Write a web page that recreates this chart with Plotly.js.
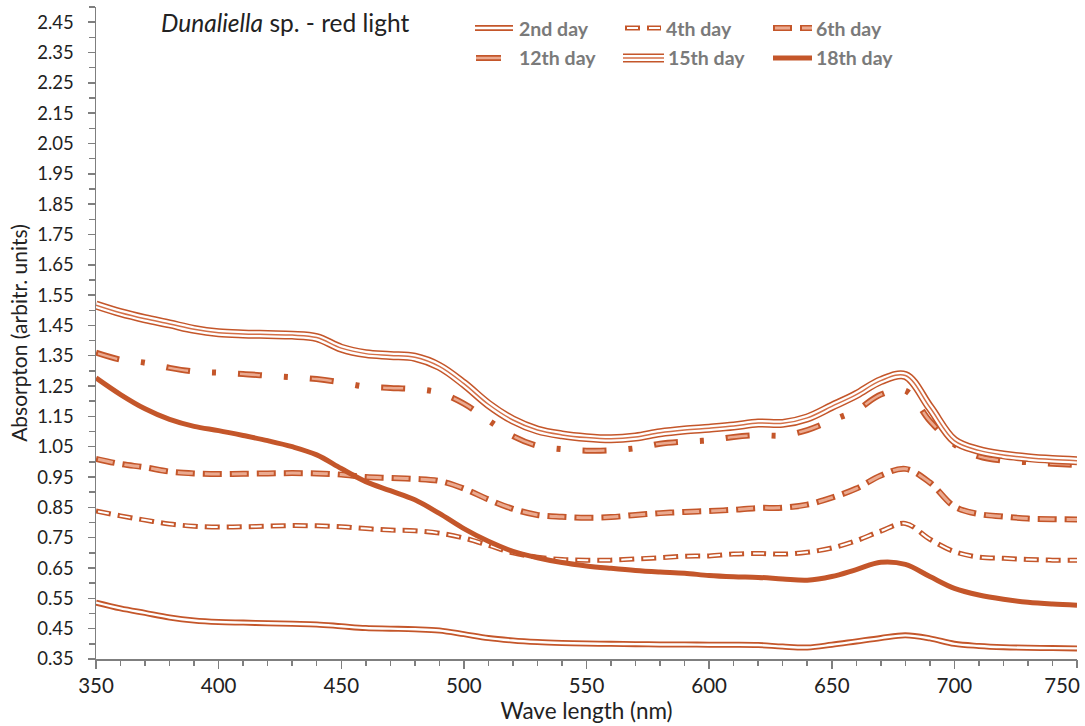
<!DOCTYPE html>
<html><head><meta charset="utf-8">
<script src="https://cdn.plot.ly/plotly-3.0.1.min.js"></script>
<style>html,body{margin:0;padding:0;background:#fff}#chart{width:1085px;height:726px}</style>
</head><body><div id="chart"></div>
<script>
// ---- data ----
const wavelength = [350,360,370,380,390,400,410,420,430,440,450,460,470,480,490,500,510,520,530,540,550,560,570,580,590,600,610,620,630,640,650,660,670,680,690,700,710,720,730,740,750];
const day2  = [0.536,0.517,0.502,0.487,0.477,0.472,0.470,0.468,0.466,0.464,0.458,0.452,0.450,0.448,0.444,0.432,0.419,0.411,0.406,0.403,0.401,0.400,0.399,0.398,0.398,0.397,0.397,0.396,0.391,0.388,0.397,0.408,0.419,0.428,0.418,0.400,0.393,0.389,0.387,0.386,0.385];
const day4  = [0.838,0.822,0.808,0.795,0.788,0.785,0.786,0.788,0.790,0.789,0.786,0.780,0.775,0.773,0.765,0.749,0.725,0.700,0.686,0.678,0.676,0.676,0.680,0.684,0.689,0.690,0.696,0.698,0.696,0.702,0.716,0.740,0.772,0.797,0.745,0.704,0.686,0.682,0.678,0.676,0.676];
const day6  = [1.010,0.993,0.982,0.968,0.962,0.960,0.961,0.962,0.963,0.962,0.958,0.950,0.947,0.944,0.937,0.912,0.876,0.845,0.825,0.819,0.816,0.818,0.825,0.831,0.835,0.838,0.842,0.848,0.849,0.859,0.882,0.912,0.955,0.977,0.932,0.853,0.828,0.820,0.813,0.811,0.810];
const day12 = [1.360,1.337,1.327,1.310,1.298,1.294,1.290,1.284,1.279,1.273,1.262,1.248,1.244,1.240,1.228,1.192,1.137,1.085,1.053,1.042,1.037,1.038,1.045,1.060,1.067,1.071,1.082,1.088,1.087,1.105,1.137,1.170,1.222,1.235,1.135,1.058,1.018,1.004,0.999,0.994,0.990];
const day15 = [1.517,1.492,1.472,1.455,1.437,1.426,1.422,1.420,1.418,1.410,1.375,1.357,1.351,1.345,1.315,1.258,1.190,1.138,1.105,1.089,1.080,1.076,1.082,1.096,1.105,1.111,1.118,1.128,1.127,1.145,1.183,1.222,1.268,1.285,1.180,1.070,1.038,1.023,1.014,1.008,1.004];
const day18 = [1.277,1.222,1.175,1.140,1.117,1.103,1.087,1.070,1.050,1.023,0.978,0.935,0.905,0.875,0.830,0.780,0.738,0.705,0.684,0.668,0.657,0.649,0.642,0.637,0.633,0.625,0.621,0.619,0.614,0.610,0.622,0.645,0.669,0.662,0.622,0.583,0.561,0.547,0.537,0.531,0.527];
const seriesNames = ['2nd day','4th day','6th day','12th day','15th day','18th day'];
const xTickVals = [350,400,450,500,550,600,650,700,750];
const xTickText = ['350','400','450','500','550','600','650','700','750'];
const yTickVals = [0.35,0.45,0.55,0.65,0.75,0.85,0.95,1.05,1.15,1.25,1.35,1.45,1.55,1.65,1.75,1.85,1.95,2.05,2.15,2.25,2.35,2.45];
const yTickText = yTickVals.map(v => v.toFixed(2));
const titleText = '<i>Dunaliella</i> sp. - red light';

// ---- styles ----
const OR = '#C4562A', LT = '#EBAA90', WH = '#FFFFFF';
const styles = [
  [{w:6,c:OR},{w:2.4,c:WH}],
  [{w:5,c:OR,d:'15px,7px'},{w:2,c:WH,d:'0px,2px,11px,9px'}],
  [{w:6,c:OR,d:'19px,8px'},{w:3,c:LT,d:'0px,2px,15px,10px'}],
  [{w:6,c:OR,d:'24px,22px,4px,22px'},{w:2.5,c:LT,d:'0px,2px,20px,50px'}],
  [{w:9,c:OR},{w:6,c:WH},{w:1.5,c:'#D46F47'}],
  [{w:5,c:OR}]
];
const legendStyles = styles.map((st, i) => i === 3 ? [{w:6,c:OR},{w:2.5,c:LT}] : st);
const seriesData = [day2, day4, day6, day12, day15, day18];

const traces = [];
seriesData.forEach((ys, i) => {
  styles[i].forEach(s => {
    traces.push({x: wavelength, y: ys, type:'scatter', mode:'lines', name: seriesNames[i],
      showlegend:false, hoverinfo:'skip', cliponaxis:false,
      xaxis: i === seriesData.length - 1 ? 'x2' : 'x',
      line:{color:s.c, width:s.w, dash:s.d || 'solid', shape:'spline', smoothing:1}});
  });
});

// ---- legend (manual) ----
const L = 96, R = 1077, T = 7, B = 659;
const px = x => (x - L) / (R - L);
const py = y => (B - y) / (B - T);
const legendPos = [
  {x0:475,x1:513,y:28,tx:517}, {x0:625,x1:661,y:28,tx:664}, {x0:773,x1:812,y:28,tx:814},
  {x0:476,x1:501,y:58,tx:517}, {x0:623,x1:664,y:58,tx:666}, {x0:773,x1:812,y:58,tx:814}
];
const shapes = [], annotations = [];
legendPos.forEach((p, i) => {
  legendStyles[i].forEach(s => {
    shapes.push({type:'line', xref:'paper', yref:'paper', x0:px(p.x0), x1:px(p.x1), y0:py(p.y), y1:py(p.y),
      line:{color:s.c, width:s.w, dash:s.d || 'solid'}});
  });
  annotations.push({xref:'paper', yref:'paper', x:px(p.tx), y:py(p.y), xanchor:'left', yanchor:'middle',
    text: '<b>' + seriesNames[i] + '</b>', showarrow:false, font:{family:'Lato', size:19.5, color:'#7A7A7A'}});
});
annotations.push({xref:'paper', yref:'paper', x:px(159), y:py(23), xanchor:'left', yanchor:'middle',
  text:titleText, showarrow:false, font:{family:'Lato', size:24.5, color:'#222'}});

const nT = xTickVals.length;
const axisCommon = {range:[350,750], showgrid:false, zeroline:false};
const layout = {
  width:1085, height:726,
  margin:{l:L, r:1085-R, t:T, b:726-B, pad:0},
  paper_bgcolor:'#fff', plot_bgcolor:'#fff',
  showlegend:false,
  xaxis:Object.assign({}, axisCommon, {tickvals:xTickVals.slice(0, nT-1), ticktext:xTickText.slice(0, nT-1),
    ticks:'outside', ticklen:8, tickwidth:1.5, tickcolor:'#7F7F7F',
    showline:true, linecolor:'#7F7F7F', linewidth:1.5,
    tickfont:{family:'Lato', size:20.5, color:'#222'},
    minor:{dtick:10, ticks:'outside', ticklen:5, tickwidth:1.5, tickcolor:'#7F7F7F'},
    title:{text:'Wave length (nm)', font:{family:'Lato', size:22.5, color:'#222'}, standoff:6}}),
  // last x label, pulled inside the frame as in the original
  xaxis2:Object.assign({}, axisCommon, {overlaying:'x', anchor:'y', side:'bottom',
    tickvals:[xTickVals[nT-1]], ticktext:[xTickText[nT-1]], ticklabelshift:-15,
    ticks:'outside', ticklen:8, tickwidth:1.5, tickcolor:'#7F7F7F', showline:false,
    tickfont:{family:'Lato', size:20.5, color:'#222'}}),
  yaxis:{range:[0.35,2.5], tickvals:yTickVals, ticktext:yTickText, ticks:'outside', ticklen:7, tickwidth:1.5, tickcolor:'#7F7F7F',
    showline:true, linecolor:'#7F7F7F', linewidth:1.5, showgrid:false, zeroline:false, ticklabelstandoff:10,
    tickfont:{family:'Lato', size:18.5, color:'#222'},
    minor:{tick0:0.35, dtick:0.05, ticks:'outside', ticklen:6, tickwidth:1.5, tickcolor:'#7F7F7F'},
    title:{text:'Absorpton (arbitr. units)', font:{family:'Lato', size:21, color:'#222'}, standoff:4}},
  shapes, annotations
};
Plotly.newPlot('chart', traces, layout, {staticPlot:true, displayModeBar:false});
</script></body></html>
